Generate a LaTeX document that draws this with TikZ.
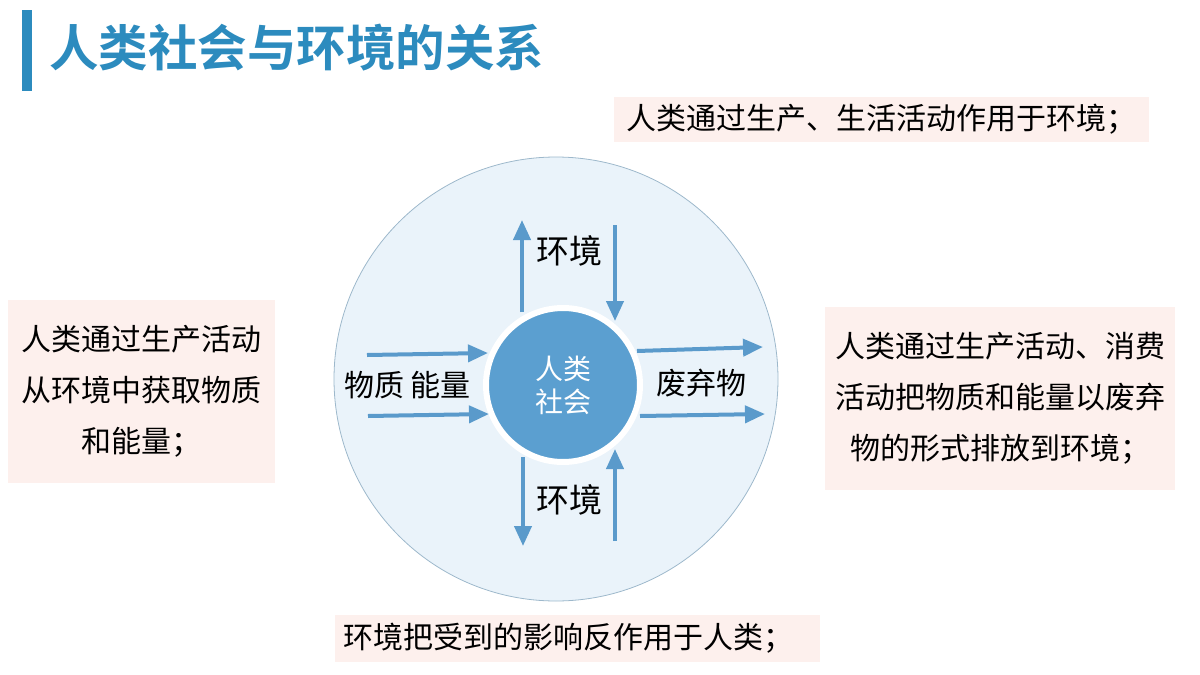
\documentclass[tikz,border=0pt]{standalone}
\usepackage{fontspec}
\usepackage{tikz}
\usetikzlibrary{arrows.meta}

\newfontfamily\cjk{Noto Sans CJK SC}[BoldFont={Noto Sans CJK SC Bold}]

\definecolor{titleblue}{HTML}{2C8BBE}
\definecolor{boxpink}{HTML}{FDF0ED}
\definecolor{ringfill}{HTML}{EAF3FA}
\definecolor{ringline}{HTML}{9DB8CB}
\definecolor{societyblue}{HTML}{5B9FD0}
\definecolor{arrowblue}{HTML}{5A9ACB}

\tikzset{
  infobox/.style={fill=boxpink, inner sep=0pt, align=center,
    font=\cjk\fontsize{30}{51}\selectfont},
  flowarrow/.style={draw=arrowblue, line width=4pt,
    -{Triangle[length=20pt,width=17pt]}},
  lbl/.style={font=\cjk\fontsize{30}{36}\selectfont},
}

\begin{document}
\begin{tikzpicture}[x=1pt,y=-1pt]
  \useasboundingbox (0,0) rectangle (1200,675);
  % title
  \fill[titleblue] (22,10) rectangle (32,91);
  \node[anchor=west, text=titleblue, inner sep=0pt,
    font=\cjk\bfseries\fontsize{49.5}{50}\selectfont] (title) at (49,48) {人类社会与环境的关系};

  % environment and society
  \node[circle, minimum size=444pt, fill=ringfill, draw=ringline, line width=0.8pt] (env) at (556,379) {};
  \node[circle, minimum size=154pt, inner sep=0pt, fill=societyblue, draw=white, line width=6pt,
    text=white, align=center, font=\cjk\fontsize{28}{33}\selectfont] (society) at (563,385) {人类\\社会};

  % arrow ends
  \coordinate (upA) at (522,312);   \coordinate (upB) at (522,220);
  \coordinate (downA) at (615,225); \coordinate (downB) at (615,321);
  \coordinate (inA) at (367,355);   \coordinate (inB) at (488,353);
  \coordinate (inC) at (368,416);   \coordinate (inD) at (489,414);
  \coordinate (outA) at (637,351);  \coordinate (outB) at (763,347);
  \coordinate (outC) at (640,416);  \coordinate (outD) at (765,414);
  \coordinate (backA) at (523,457); \coordinate (backB) at (523,546);
  \coordinate (backC) at (615,541); \coordinate (backD) at (615,449);

  \draw[flowarrow] (upA) -- (upB);
  \draw[flowarrow] (downA) -- (downB);
  \draw[flowarrow] (inA) -- (inB);
  \draw[flowarrow] (inC) -- (inD);
  \draw[flowarrow] (outA) -- (outB);
  \draw[flowarrow] (outC) -- (outD);
  \draw[flowarrow] (backA) -- (backB);
  \draw[flowarrow] (backC) -- (backD);

  % labels in the ring
  \node[lbl, font=\cjk\fontsize{33}{36}\selectfont] (envtop) at (569,251) {环境};
  \node[lbl, font=\cjk\fontsize{33}{36}\selectfont] (envbot) at (569,500) {环境};
  \node[lbl] (matter) at (407,385) {物质\kern6pt 能量};
  \node[lbl] (waste) at (701,383) {废弃物};

  % notes
  \node[infobox, minimum width=535pt, minimum height=45pt] (notetop) at (881,119)
    {人类通过生产、生活活动作用于环境；};
  \node[infobox, minimum width=267pt, minimum height=183pt] (noteleft) at (141.5,391.5)
    {人类通过生产活动\\从环境中获取物质\\和能量；};
  \node[infobox, minimum width=350pt, minimum height=183pt] (noteright) at (1000,398.5)
    {人类通过生产活动、消费\\活动把物质和能量以废弃\\物的形式排放到环境；};
  \node[infobox, minimum width=485pt, minimum height=47pt] (notebot) at (577.5,638.5) {};
  \node[anchor=west, inner sep=0pt, font=\cjk\fontsize{30}{36}\selectfont] (notebottext) at (343,638.5)
    {环境把受到的影响反作用于人类；};
\end{tikzpicture}
\end{document}
